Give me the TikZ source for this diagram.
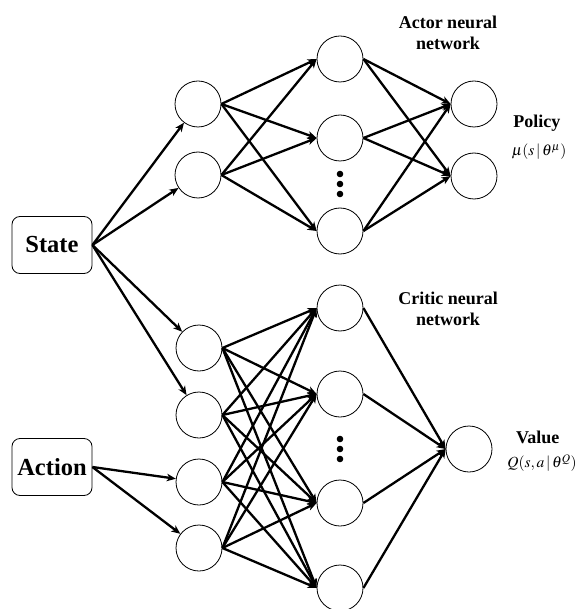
\documentclass[tikz,border=0pt]{standalone}
\usepackage{mathptmx}
\usepackage{fontspec}
\setmainfont{Liberation Serif}
\usetikzlibrary{arrows.meta,positioning}

\begin{document}
\begin{tikzpicture}[x=1pt, y=-1pt,
    neuron/.style={
        circle,
        draw,
        line width=0.8pt,
        minimum size=46pt,
        inner sep=0pt
    },
    inputbox/.style={
        rectangle,
        rounded corners=8pt,
        draw,
        line width=0.8pt,
        minimum width=80pt,
        minimum height=57pt,
        font=\rmfamily\bfseries\fontsize{24.5}{29}\selectfont
    },
    tag/.style={
        align=center,
        font=\rmfamily\bfseries\fontsize{18}{21}\selectfont
    },
    formula/.style={
        inner sep=1pt,
        font=\fontsize{15.5}{19}\selectfont
    },
    link/.style={
        -{Stealth[length=9pt, width=7.5pt, inset=2.5pt]},
        line width=2.3pt
    }
]
    \useasboundingbox (0,0) rectangle (579,609);

    \node (state) [inputbox, shift={(52, 245)}]
    {
        State
    };
    \node (action) [inputbox, shift={(52, 467)}]
    {
        Action
    };


    % actor network
    \node (actor_in_1) [neuron, shift={(198, 104)}] {};
    \node (actor_in_2) [neuron, shift={(198, 175)}] {};

    \node (actor_hid_1) [neuron, shift={(340, 59)}] {};
    \node (actor_hid_2) [neuron, shift={(340, 138)}] {};
    \node (actor_hid_3) [neuron, shift={(340, 231)}] {};

    \node (actor_out_1) [neuron, shift={(474, 104)}] {};
    \node (actor_out_2) [neuron, shift={(474, 176)}] {};

    \fill (340, 174) circle (3.3pt);
    \fill (340, 184) circle (3.3pt);
    \fill (340, 194) circle (3.3pt);


    % critic network
    \node (critic_in_1) [neuron, shift={(199, 348)}] {};
    \node (critic_in_2) [neuron, shift={(199, 415)}] {};
    \node (critic_in_3) [neuron, shift={(199, 482)}] {};
    \node (critic_in_4) [neuron, shift={(199, 548)}] {};

    \node (critic_hid_1) [neuron, shift={(340, 308)}] {};
    \node (critic_hid_2) [neuron, shift={(340, 394)}] {};
    \node (critic_hid_3) [neuron, shift={(340, 503)}] {};
    \node (critic_hid_4) [neuron, shift={(340, 588)}] {};

    \node (critic_out) [neuron, shift={(469, 449)}] {};

    \fill (340, 439) circle (3.3pt);
    \fill (340, 449) circle (3.3pt);
    \fill (340, 459) circle (3.3pt);


    % labels
    \node (actor_title) [tag, shift={(448, 33)}]
    {
        Actor neural\\network
    };
    \node (policy) [tag, shift={(539, 123)}]
    {
        Policy
    };
    \node (policy_fn) [formula, shift={(539, 152)}]
    {
        $\mu(s\,|\,\theta^{\mu})$
    };

    \node (critic_title) [tag, shift={(448, 309)}]
    {
        Critic neural\\network
    };
    \node (value) [tag, shift={(540, 437)}]
    {
        Value
    };
    \node (value_fn) [formula, shift={(542, 463)}]
    {
        $Q(s,a\,|\,\theta^{Q})$
    };


    \draw[link] (state.east) to (actor_in_1);
    \draw[link] (state.east) to (actor_in_2);
    \draw[link] (state.east) to (critic_in_1);
    \draw[link] (state.east) to (critic_in_2);
    \draw[link] (action.east) to (critic_in_3);
    \draw[link] (action.east) to (critic_in_4);

    \draw[link] (actor_in_1.east) to (actor_hid_1.west);
    \draw[link] (actor_in_1.east) to (actor_hid_2.west);
    \draw[link] (actor_in_1.east) to (actor_hid_3.west);
    \draw[link] (actor_in_2.east) to (actor_hid_1.west);
    \draw[link] (actor_in_2.east) to (actor_hid_2.west);
    \draw[link] (actor_in_2.east) to (actor_hid_3.west);

    \draw[link] (actor_hid_1.east) to (actor_out_1.west);
    \draw[link] (actor_hid_1.east) to (actor_out_2.west);
    \draw[link] (actor_hid_2.east) to (actor_out_1.west);
    \draw[link] (actor_hid_2.east) to (actor_out_2.west);
    \draw[link] (actor_hid_3.east) to (actor_out_1.west);
    \draw[link] (actor_hid_3.east) to (actor_out_2.west);

    \draw[link] (critic_in_1.east) to (critic_hid_1.west);
    \draw[link] (critic_in_1.east) to (critic_hid_2.west);
    \draw[link] (critic_in_1.east) to (critic_hid_3.west);
    \draw[link] (critic_in_1.east) to (critic_hid_4.west);
    \draw[link] (critic_in_2.east) to (critic_hid_1.west);
    \draw[link] (critic_in_2.east) to (critic_hid_2.west);
    \draw[link] (critic_in_2.east) to (critic_hid_3.west);
    \draw[link] (critic_in_2.east) to (critic_hid_4.west);
    \draw[link] (critic_in_3.east) to (critic_hid_1.west);
    \draw[link] (critic_in_3.east) to (critic_hid_2.west);
    \draw[link] (critic_in_3.east) to (critic_hid_3.west);
    \draw[link] (critic_in_3.east) to (critic_hid_4.west);
    \draw[link] (critic_in_4.east) to (critic_hid_1.west);
    \draw[link] (critic_in_4.east) to (critic_hid_2.west);
    \draw[link] (critic_in_4.east) to (critic_hid_3.west);
    \draw[link] (critic_in_4.east) to (critic_hid_4.west);

    \draw[link] (critic_hid_1.east) to (critic_out.west);
    \draw[link] (critic_hid_2.east) to (critic_out.west);
    \draw[link] (critic_hid_3.east) to (critic_out.west);
    \draw[link] (critic_hid_4.east) to (critic_out.west);


\end{tikzpicture}
\end{document}
